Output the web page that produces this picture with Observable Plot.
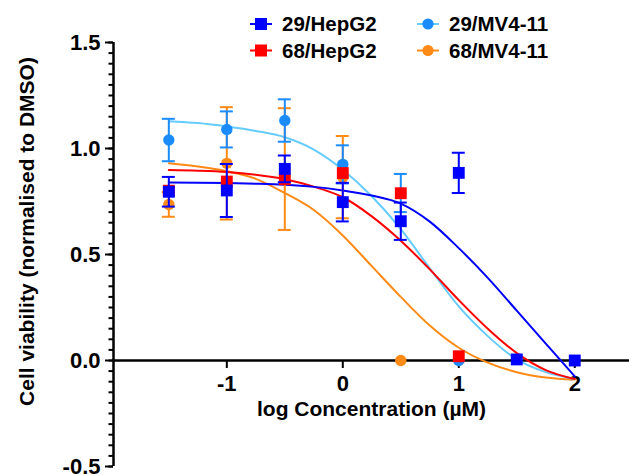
<!DOCTYPE html>
<html>
<head>
<meta charset="utf-8">
<script src="https://cdn.jsdelivr.net/npm/d3@7"></script>
<script src="https://cdn.jsdelivr.net/npm/@observablehq/plot@0.6"></script>
<style>
  body { margin: 0; background: #fff; }
  #wrap { position: relative; width: 629px; height: 475px; overflow: hidden; }
  #legend { position: absolute; left: 0; top: 0; pointer-events: none; }
</style>
</head>
<body>
<div id="wrap"></div>
<script>
// ---------- data ----------
const hep29X    = [-1.5, -1, -0.5, 0, 0.5, 1, 1.5, 2];
const hep29Mean = [0.796, 0.802, 0.904, 0.747, 0.657, 0.885, 0.005, 0.0];
const hep29Err  = [0.07, 0.125, 0.063, 0.091, 0.088, 0.095, 0, 0];

const hep68X    = [-1.5, -1, -0.5, 0, 0.5, 1];
const hep68Mean = [0.801, 0.844, 0.855, 0.884, 0.789, 0.02];

const mv29X     = [-1.5, -1, -0.5, 0, 0.5, 1];
const mv29Mean  = [1.04, 1.09, 1.132, 0.925, 0.79, 0.0];
const mv29Err   = [0.10, 0.085, 0.10, 0.09, 0.09, 0];

const mv68X     = [-1.5, -1, -0.5, 0, 0.5];
const mv68Mean  = [0.736, 0.93, 0.903, 0.865, 0.0];
const mv68Err   = [0.058, 0.265, 0.287, 0.194, 0];

// fitted curves
const fitX     = [-1.5, -1.25, -1, -0.75, -0.5, -0.25, 0, 0.25, 0.5, 0.75, 1, 1.25, 1.5, 1.75, 2];
const hep29Fit = [0.840, 0.839, 0.837, 0.834, 0.829, 0.819, 0.802, 0.778, 0.740, 0.655, 0.530, 0.390, 0.235, 0.080, -0.075];
const hep68Fit = [0.898, 0.895, 0.889, 0.876, 0.855, 0.820, 0.770, 0.680, 0.565, 0.430, 0.285, 0.150, 0.035, -0.045, -0.087];
const mv29Fit  = [1.129, 1.120, 1.104, 1.083, 1.053, 0.995, 0.900, 0.775, 0.620, 0.435, 0.255, 0.115, 0.005, -0.055, -0.087];
const mv68Fit  = [0.930, 0.915, 0.893, 0.857, 0.790, 0.710, 0.590, 0.445, 0.300, 0.165, 0.060, -0.010, -0.055, -0.080, -0.090];

const xTicks = [-1, 0, 1, 2];
const yTicks = [-0.5, 0, 0.5, 1, 1.5];
const yMinorTicks = d3.range(-10, 31).map(i => +(i * 0.05).toFixed(2));
const xDomain = [-1.977, 2.472];
const yDomain = [-0.5, 1.5];

const seriesNames = ["29/HepG2", "68/HepG2", "29/MV4-11", "68/MV4-11"];
const C = {
  hep29: "#0000FF",
  hep68: "#FF0000",
  mv29: "#1A8CFF",
  mv29Line: "#66CCFF",
  mv68: "#FF8A16"
};
const FONT = "'Liberation Sans', Arial, Helvetica, sans-serif";

// ---------- tables ----------
const pts = (xs, ms, es) => xs.map((x, i) => ({x, y: ms[i], e: es ? es[i] : 0}));
const fit = ys => fitX.map((x, i) => ({x, y: ys[i]}));
const hep29 = pts(hep29X, hep29Mean, hep29Err);
const hep68 = pts(hep68X, hep68Mean, null);
const mv29 = pts(mv29X, mv29Mean, mv29Err);
const mv68 = pts(mv68X, mv68Mean, mv68Err);

function errMarks(data, color) {
  const d = data.filter(p => p.e > 0);
  return [
    Plot.ruleX(d, {x: "x", y1: p => p.y - p.e, y2: p => p.y + p.e, stroke: color, strokeWidth: 2}),
    Plot.ruleY(d, {y: p => p.y + p.e, x1: "x", x2: "x", insetLeft: -6.5, insetRight: -6.5, stroke: color, strokeWidth: 2}),
    Plot.ruleY(d, {y: p => p.y - p.e, x1: "x", x2: "x", insetLeft: -6.5, insetRight: -6.5, stroke: color, strokeWidth: 2})
  ];
}

const curveOpts = {x: "x", y: "y", strokeWidth: 2, curve: "monotone-x"};

const chart = Plot.plot({
  width: 629,
  height: 475,
  marginLeft: 113,
  marginRight: 0,
  marginTop: 42,
  marginBottom: 9,
  x: {domain: xDomain, axis: null},
  y: {domain: yDomain},
  style: {fontFamily: FONT, fontSize: "20px", fontWeight: "bold", background: "white", color: "black", overflow: "visible"},
  marks: [
    // axes
    Plot.ruleY([0], {stroke: "black", strokeWidth: 2.5}),
    Plot.ruleX([xDomain[0]], {stroke: "black", strokeWidth: 2.5}),
    Plot.ruleX(xTicks, {x: d => d, y1: 0, y2: 0, insetBottom: -8, stroke: "black", strokeWidth: 2}),
    Plot.text(xTicks, {x: d => d, y: 0, dy: 23, text: d => String(d), fontSize: 22, fontWeight: "bold", fill: "black"}),
    Plot.axisY(yMinorTicks, {tickSize: 4.5, strokeWidth: 2, tickFormat: () => "", label: null}),
    Plot.axisY(yTicks, {tickSize: 8, tickPadding: 5, strokeWidth: 2, tickFormat: d => d.toFixed(1), fontSize: 22, fontWeight: "bold", label: null}),
    Plot.text(["log Concentration (µM)"], {frameAnchor: "bottom", dy: -51, fontSize: 21, fontWeight: "bold", fill: "black"}),
    Plot.text(["Cell viability (normalised to DMSO)"], {frameAnchor: "left", textAnchor: "middle", rotate: -90, dx: -86, dy: -23, fontSize: 21, fontWeight: "bold", fill: "black"}),
    // fitted curves
    Plot.line(fit(mv68Fit), {...curveOpts, stroke: C.mv68}),
    Plot.line(fit(mv29Fit), {...curveOpts, stroke: C.mv29Line}),
    Plot.line(fit(hep68Fit), {...curveOpts, stroke: C.hep68}),
    Plot.line(fit(hep29Fit), {...curveOpts, stroke: C.hep29}),
    // points with error bars
    ...errMarks(mv68, C.mv68),
    Plot.dot(mv68, {x: "x", y: "y", r: 5.7, fill: C.mv68, stroke: "none"}),
    ...errMarks(mv29, C.mv29),
    Plot.dot(mv29, {x: "x", y: "y", r: 5.7, fill: C.mv29, stroke: "none"}),
    Plot.dot(hep68, {x: "x", y: "y", r: 6.7, symbol: "square", fill: C.hep68, stroke: "none"}),
    ...errMarks(hep29, C.hep29),
    Plot.dot(hep29, {x: "x", y: "y", r: 6.7, symbol: "square", fill: C.hep29, stroke: "none"})
  ]
});

const wrap = document.getElementById("wrap");
wrap.appendChild(chart);

// ---------- legend ----------
const legendItems = [
  {label: seriesNames[0], line: C.hep29, fill: C.hep29, sym: "square", col: 0, row: 0},
  {label: seriesNames[1], line: C.hep68, fill: C.hep68, sym: "square", col: 0, row: 1},
  {label: seriesNames[2], line: C.mv29Line, fill: C.mv29, sym: "circle", col: 1, row: 0},
  {label: seriesNames[3], line: C.mv68, fill: C.mv68, sym: "circle", col: 1, row: 1}
];
const colX = [250, 417];
const rowY = [24, 50.5];
const lg = d3.create("svg").attr("id", "legend").attr("width", 629).attr("height", 70)
  .style("font-family", FONT).style("font-size", "20.5px").style("font-weight", "bold");
for (const it of legendItems) {
  const x0 = colX[it.col], y0 = rowY[it.row];
  const g = lg.append("g");
  g.append("line").attr("x1", x0).attr("x2", x0 + 22).attr("y1", y0).attr("y2", y0)
    .attr("stroke", it.line).attr("stroke-width", 2);
  if (it.sym === "square") {
    g.append("rect").attr("x", x0 + 11 - 6).attr("y", y0 - 6).attr("width", 12).attr("height", 12).attr("fill", it.fill);
  } else {
    g.append("circle").attr("cx", x0 + 11).attr("cy", y0).attr("r", 5.6).attr("fill", it.fill);
  }
  g.append("text").attr("x", x0 + 32).attr("y", y0).attr("dy", "0.35em").attr("fill", "black").text(it.label);
}
wrap.appendChild(lg.node());
</script>
</body>
</html>
